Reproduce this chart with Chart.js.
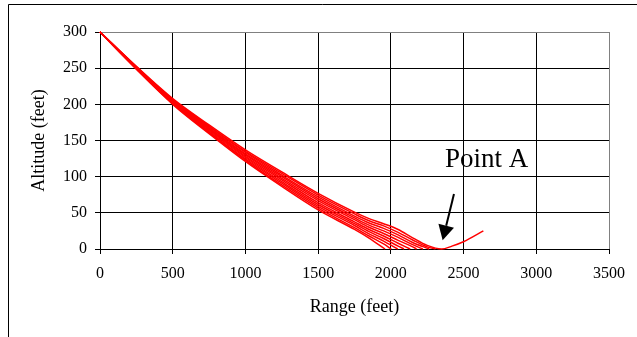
<!DOCTYPE html>
<html>
<head>
<meta charset="utf-8">
<script src="https://cdn.jsdelivr.net/npm/chart.js@4/dist/chart.umd.min.js"></script>
<style>
  html, body { margin: 0; padding: 0; background: #fff; }
  #wrap { width: 637px; height: 337px; position: relative; }
</style>
</head>
<body>
<div id="wrap"><canvas id="c" width="637" height="337"></canvas></div>
<script>
// Range stations (feet) at which each glide trajectory's altitude is listed
const rangeStations = [0, 250, 500, 750, 1000, 1250, 1500, 1750, 1850, 1950, 2050, 2150, 2250];

// Altitude (feet) of each trajectory at the stations above, until it lands
const altitudeRun1  = [300, 248.5, 200,   159.5, 121,   86.5,  54,   27,   15];
const altitudeRun2  = [300, 249,   201,   161,   123,   88.5,  56.5, 29.5, 18, 7];
const altitudeRun3  = [300, 249.5, 202,   162,   124.5, 91,    59,   32.5, 21, 11];
const altitudeRun4  = [300, 250,   202.5, 163.5, 126.5, 93,    61.5, 35,   24, 14.5, 4];
const altitudeRun5  = [300, 250,   203.5, 165,   128,   95.5,  64,   37.5, 27, 18,   8];
const altitudeRun6  = [300, 250.5, 204.5, 166,   130,   97.5,  67,   40.5, 30, 21.5, 12,   3];
const altitudeRun7  = [300, 251,   205.5, 167.5, 131.5, 100,   69.5, 43,   33, 25,   16,   6];
const altitudeRun8  = [300, 251.5, 206,   169,   133.5, 102,   72,   45.5, 36, 28.5, 19.5, 9];
const altitudeRun9  = [300, 252,   207,   170,   135,   104.5, 74.5, 48.5, 39, 32,   23,   12.5, 3];
const altitudeRun10 = [300, 252.5, 208,   171.5, 137,   106.5, 77,   51,   42, 35,   27,   15.5, 5];

// Range (feet) where each trajectory reaches the ground
const touchdownRange = [1960, 2003, 2047, 2090, 2133, 2177, 2220, 2263, 2306, 2349];

// The last trajectory climbs again after touching down at Point A
const reboundRange    = [2420, 2499, 2636];
const reboundAltitude = [4, 10, 25];

// Axis tick values
const rangeTicks    = [0, 500, 1000, 1500, 2000, 2500, 3000, 3500];
const altitudeTicks = [0, 50, 100, 150, 200, 250, 300];

const altitudeRuns = [altitudeRun1, altitudeRun2, altitudeRun3, altitudeRun4, altitudeRun5,
                      altitudeRun6, altitudeRun7, altitudeRun8, altitudeRun9, altitudeRun10];

const datasets = altitudeRuns.map((run, i) => {
  const pts = run.map((alt, k) => ({ x: rangeStations[k], y: alt }));
  pts.push({ x: touchdownRange[i], y: 0 });
  if (i === altitudeRuns.length - 1) {
    reboundRange.forEach((r, k) => pts.push({ x: r, y: reboundAltitude[k] }));
  }
  return {
    data: pts,
    showLine: true,
    borderColor: '#ff0000',
    borderWidth: 1.5,
    pointRadius: 0,
    cubicInterpolationMode: 'monotone',
    clip: false
  };
});

// Callout for the touchdown point, placed in data units
const pointANote = { text: 'Point A', label: [2372, 113], arrowFrom: [2434, 76], arrowTo: [2356, 12] };

const framePlugin = {
  id: 'frame',
  beforeDraw(chart) {
    const ctx = chart.ctx;
    ctx.save();
    ctx.fillStyle = '#fff';
    ctx.fillRect(0, 0, chart.width, chart.height);
    ctx.strokeStyle = '#000';
    ctx.lineWidth = 1;
    ctx.beginPath();
    ctx.moveTo(8.5, chart.height);
    ctx.lineTo(8.5, 4.5);
    ctx.lineTo(chart.width, 4.5);
    ctx.stroke();
    ctx.restore();
  }
};

const calloutPlugin = {
  id: 'callout',
  afterDatasetsDraw(chart) {
    const { ctx, scales: { x, y } } = chart;
    ctx.save();
    ctx.fillStyle = '#000';
    ctx.font = '27px "Liberation Serif", "Times New Roman", serif';
    ctx.textAlign = 'left';
    ctx.textBaseline = 'alphabetic';
    ctx.fillText(pointANote.text, x.getPixelForValue(pointANote.label[0]), y.getPixelForValue(pointANote.label[1]));

    const x0 = x.getPixelForValue(pointANote.arrowFrom[0]);
    const y0 = y.getPixelForValue(pointANote.arrowFrom[1]);
    const x1 = x.getPixelForValue(pointANote.arrowTo[0]);
    const y1 = y.getPixelForValue(pointANote.arrowTo[1]);
    const len = Math.hypot(x1 - x0, y1 - y0);
    const ux = (x1 - x0) / len, uy = (y1 - y0) / len;
    const headLen = 15, headHalf = 8;
    const bx = x1 - ux * headLen, by = y1 - uy * headLen;
    ctx.strokeStyle = '#000';
    ctx.lineWidth = 2;
    ctx.beginPath();
    ctx.moveTo(x0, y0);
    ctx.lineTo(bx, by);
    ctx.stroke();
    ctx.beginPath();
    ctx.moveTo(x1, y1);
    ctx.lineTo(bx - uy * headHalf, by + ux * headHalf);
    ctx.lineTo(bx + uy * headHalf, by - ux * headHalf);
    ctx.closePath();
    ctx.fill();
    ctx.restore();
  }
};

const serif = '"Liberation Serif", "Times New Roman", serif';

new Chart(document.getElementById('c'), {
  type: 'scatter',
  data: { datasets },
  plugins: [framePlugin, calloutPlugin],
  options: {
    responsive: false,
    devicePixelRatio: 1,
    animation: false,
    layout: { padding: { left: 0, top: 32, right: 28, bottom: 0 } },
    plugins: { legend: { display: false }, tooltip: { enabled: false } },
    scales: {
      x: {
        type: 'linear',
        min: 0, max: 3500,
        afterBuildTicks: s => { s.ticks = rangeTicks.map(v => ({ value: v })); },
        afterFit: s => { s.height = 88; },
        grid: {
          color: c => (c.tick && c.tick.value === 3500) ? '#808080' : '#000',
          tickColor: '#000',
          tickLength: 5,
          lineWidth: 1
        },
        border: { color: '#000', width: 1 },
        ticks: { color: '#000', font: { family: serif, size: 16 }, padding: 10, maxRotation: 0,
                 callback: v => String(v) },
        title: { display: true, text: 'Range (feet)', color: '#000',
                 font: { family: serif, size: 18 }, padding: { top: 0, bottom: 19 } }
      },
      y: {
        type: 'linear',
        min: 0, max: 300,
        afterBuildTicks: s => { s.ticks = altitudeTicks.map(v => ({ value: v })); },
        afterFit: s => { s.width = 100; },
        grid: {
          color: c => (c.tick && c.tick.value === 300) ? '#808080' : '#000',
          tickColor: '#000',
          tickLength: 5,
          lineWidth: 1
        },
        border: { color: '#000', width: 1 },
        ticks: { color: '#000', font: { family: serif, size: 16 }, padding: 8,
                 callback: v => String(v) },
        title: { display: true, text: 'Altitude (feet)', color: '#000',
                 font: { family: serif, size: 18 }, padding: { top: 28, bottom: 0 } }
      }
    }
  }
});
</script>
</body>
</html>
